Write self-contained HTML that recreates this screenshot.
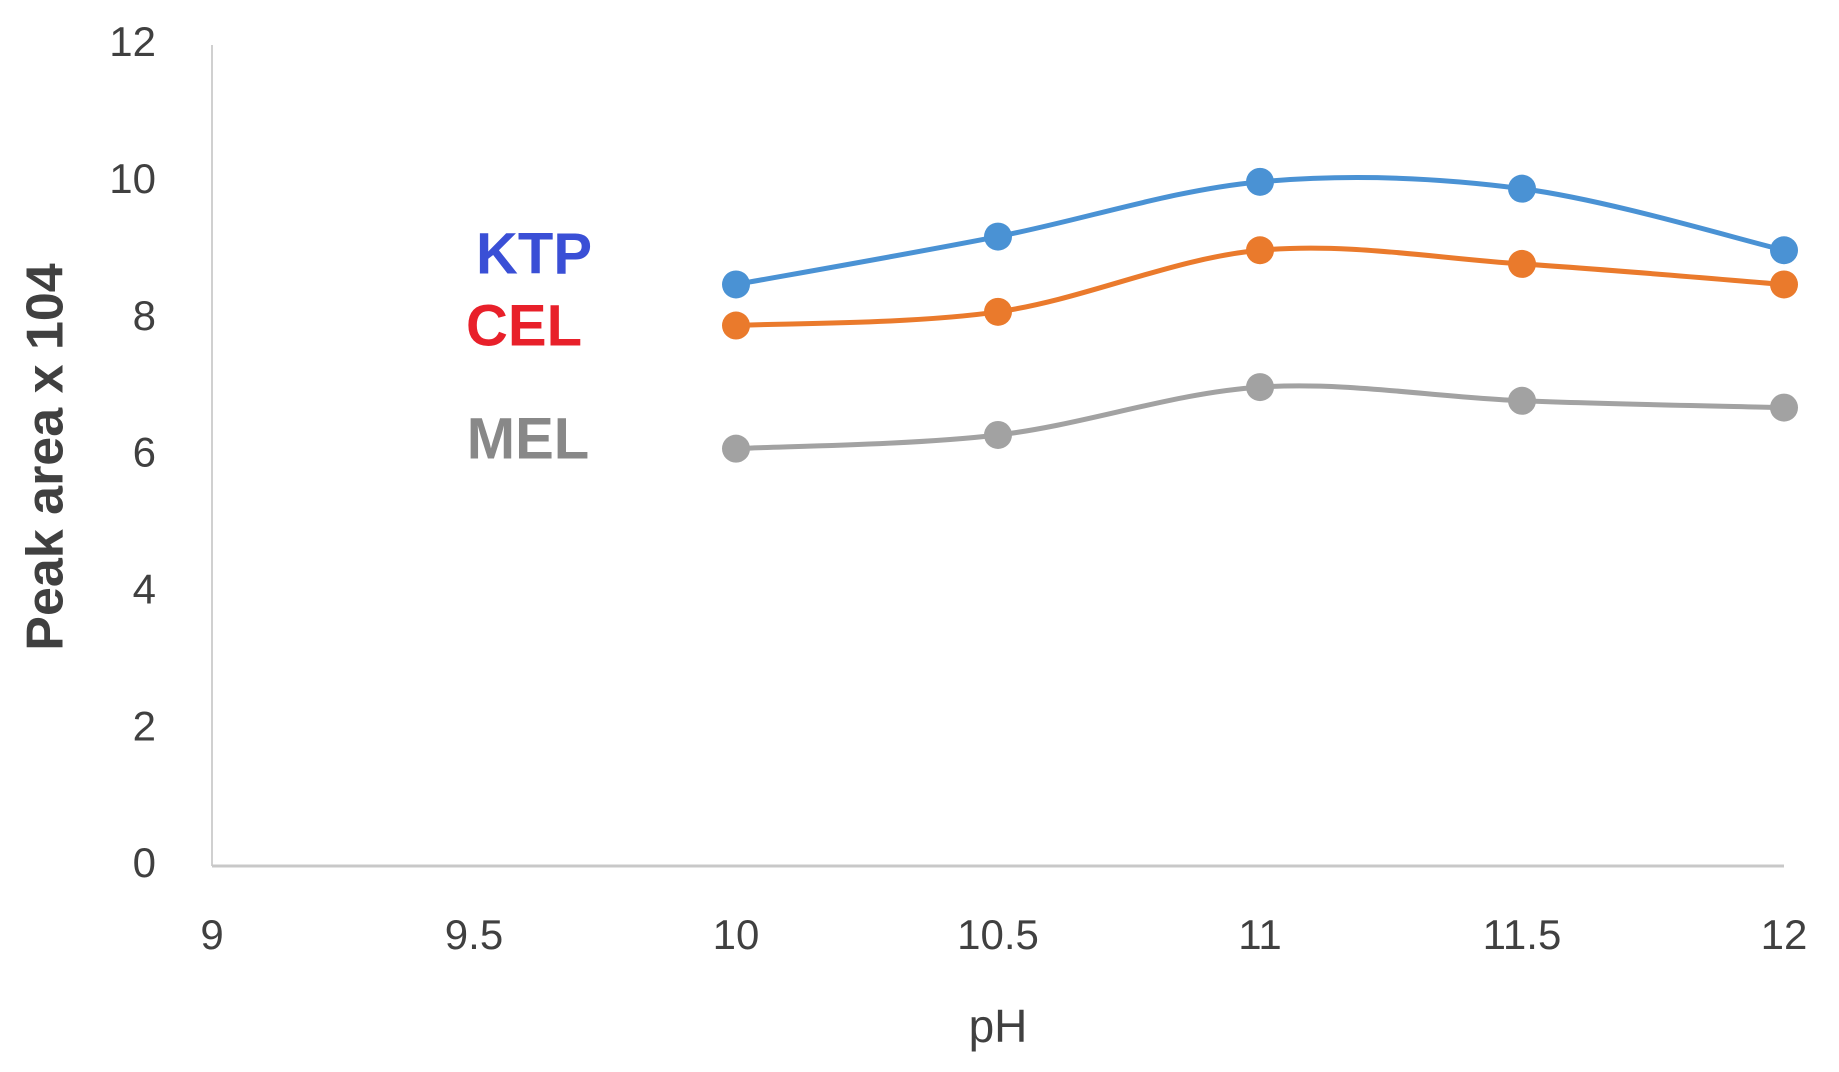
<!DOCTYPE html>
<html><head><meta charset="utf-8"><style>
html,body{margin:0;padding:0;background:#fff;}
svg{display:block;font-family:"Liberation Sans",sans-serif;}
</style></head><body>
<svg id="chart" width="1839" height="1072" viewBox="0 0 1839 1072">
<g id="axes"></g>
<g id="series"></g>
<text x="49" y="457" transform="rotate(-90 49 457)" text-anchor="middle" dominant-baseline="middle" font-size="52" font-weight="600" fill="#404040">Peak area x 104</text>
<text x="998" y="1030" text-anchor="middle" dominant-baseline="middle" font-size="46" fill="#404040">pH</text>
<text x="534" y="258" text-anchor="middle" dominant-baseline="middle" font-size="58" font-weight="bold" fill="#3a4fd6">KTP</text>
<text x="524" y="330" text-anchor="middle" dominant-baseline="middle" font-size="58" font-weight="bold" fill="#e8202a">CEL</text>
<text x="528" y="443" text-anchor="middle" dominant-baseline="middle" font-size="58" font-weight="bold" fill="#888888">MEL</text>
</svg>
<script>
const phValues = [10, 10.5, 11, 11.5, 12];
const ktpValues = [8.5, 9.2, 10.0, 9.9, 9.0];
const celValues = [7.9, 8.1, 9.0, 8.8, 8.5];
const melValues = [6.1, 6.3, 7.0, 6.8, 6.7];
const xTicks = [9, 9.5, 10, 10.5, 11, 11.5, 12];
const yTicks = [0, 2, 4, 6, 8, 10, 12];

const NS = "http://www.w3.org/2000/svg";
const X0 = 212, X1 = 1784, Y0 = 866, Y1 = 45;
function xs(v){ return X0 + (v - 9) / 3 * (X1 - X0); }
function ys(v){ return Y0 - v / 12 * (Y0 - Y1); }
function mk(tag, attrs){ const e = document.createElementNS(NS, tag); for (const k in attrs) e.setAttribute(k, attrs[k]); return e; }

const axes = document.getElementById('axes');
const yl = mk('line', {x1:X0, y1:Y1, x2:X0, y2:Y0, stroke:'#d0d0d0', 'stroke-width':2});


axes.appendChild(yl);
const xl = mk('line', {x1:X0, y1:Y0, x2:X1, y2:Y0, stroke:'#c8c8c8', 'stroke-width':3});


axes.appendChild(xl);
yTicks.forEach(t => {
  const e = mk('text', {x:156, y:ys(t), 'text-anchor':'end', 'dominant-baseline':'middle', 'font-size':42, fill:'#404040'});
  e.textContent = t;
  
  
  axes.appendChild(e);
});
xTicks.forEach(t => {
  const e = mk('text', {x:xs(t), y:938, 'text-anchor':'middle', 'dominant-baseline':'middle', 'font-size':42, fill:'#404040'});
  e.textContent = t;
  
  
  axes.appendChild(e);
});

function smoothPath(pts){
  let d = `M${pts[0][0]},${pts[0][1]}`;
  for (let i = 0; i < pts.length - 1; i++) {
    const p0 = pts[Math.max(i-1,0)], p1 = pts[i], p2 = pts[i+1], p3 = pts[Math.min(i+2,pts.length-1)];
    const c1x = p1[0] + (p2[0]-p0[0])/6, c1y = p1[1] + (p2[1]-p0[1])/6;
    const c2x = p2[0] - (p3[0]-p1[0])/6, c2y = p2[1] - (p3[1]-p1[1])/6;
    d += ` C${c1x},${c1y} ${c2x},${c2y} ${p2[0]},${p2[1]}`;
  }
  return d;
}
const sg = document.getElementById('series');
[[ktpValues,'#4a92d4','ktp'],[celValues,'#ea7a2c','cel'],[melValues,'#a2a2a2','mel']].forEach(([vals,col,nm]) => {
  const pts = vals.map((v,i) => [xs(phValues[i]), ys(v)]);
  const p = mk('path', {d:smoothPath(pts), fill:'none', stroke:col, 'stroke-width':5});
  
  
  sg.appendChild(p);
  pts.forEach(pt => {
    const c = mk('circle', {cx:pt[0], cy:pt[1], r:14, fill:col});
    
    
    sg.appendChild(c);
  });
});
</script>
</body></html>
